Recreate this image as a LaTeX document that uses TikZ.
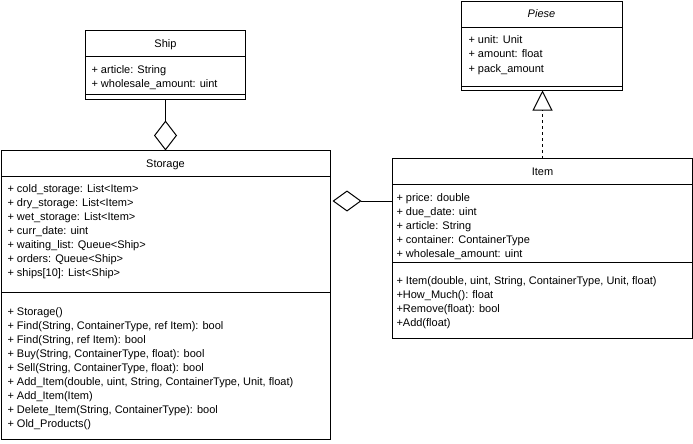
\documentclass[tikz,border=0pt]{standalone}
\usepackage{fontspec}
\setmainfont{Liberation Sans}
\usetikzlibrary{arrows.meta}

\begin{document}
\begin{tikzpicture}[x=1pt, y=-1pt, line width=1pt,
  font=\fontsize{11}{13}\selectfont,
  classbox/.style={draw=black, fill=white, anchor=north west, inner sep=0, outer sep=0},
  member/.style={anchor=base west, inner sep=0},
  title/.style={anchor=base, inner sep=0},
  aggregation/.style={-{Diamond[open, length=#1]}},
  realization/.style={dashed, dash pattern=on 3pt off 3pt, -{Triangle[open, length=20pt, width=20pt]}}
]
\useasboundingbox (0,0) rectangle (693,444);

% ---------- class boxes ----------
\node[classbox, minimum width=160pt, minimum height=69pt] (ship) at (85.5,30.5) {};
\node[classbox, minimum width=329pt, minimum height=289pt] (storage) at (1.5,150.5) {};
\node[classbox, minimum width=161pt, minimum height=89pt] (piese) at (461.5,1.5) {};
\node[classbox, minimum width=300pt, minimum height=180pt] (item) at (392.5,158.5) {};

% compartment separators
\draw (ship.west |- 0,56.5) -- (ship.east |- 0,56.5);
\draw (ship.west |- 0,94.5) -- (ship.east |- 0,94.5);
\draw (storage.west |- 0,176.5) -- (storage.east |- 0,176.5);
\draw (storage.west |- 0,292.5) -- (storage.east |- 0,292.5);
\draw (piese.west |- 0,27.5) -- (piese.east |- 0,27.5);
\draw (piese.west |- 0,86.5) -- (piese.east |- 0,86.5);
\draw (item.west |- 0,184.5) -- (item.east |- 0,184.5);
\draw (item.west |- 0,262.5) -- (item.east |- 0,262.5);

% ---------- Ship ----------
\node[title] (shipT) at (165.5,47.5) {Ship};
\node[member] (shipA0) at (91,73.5) {+ article: String};
\node[member] (shipA1) at (91,87.5) {+ wholesale\_amount: uint};

% ---------- Piese ----------
\node[title, font=\fontsize{11}{13}\selectfont\itshape] (pieseT) at (541.5,18) {Piese};
\foreach \t [count=\i from 0] in {{+ unit: Unit}, {+ amount: float}, {+ pack\_amount}}
  \node[member] (pieseA\i) at (468, 44+14*\i) {\t};

% ---------- Storage ----------
\node[title] (storageT) at (165.5,167) {Storage};
\foreach \t [count=\i from 0] in {
  {+ cold\_storage: List<Item>},
  {+ dry\_storage: List<Item>},
  {+ wet\_storage: List<Item>},
  {+ curr\_date: uint},
  {+ waiting\_list: Queue<Ship>},
  {+ orders: Queue<Ship>},
  {+ ships[10]: List<Ship>}}
  \node[member] (storageA\i) at (7, 192+14*\i) {\t};
\foreach \t [count=\i from 0] in {
  {+ Storage()},
  {+ Find(String, ContainerType, ref Item): bool},
  {+ Find(String, ref Item): bool},
  {+ Buy(String, ContainerType, float): bool},
  {+ Sell(String, ContainerType, float): bool},
  {+ Add\_Item(double, uint, String, ContainerType, Unit, float)},
  {+ Add\_Item(Item)},
  {+ Delete\_Item(String, ContainerType): bool},
  {+ Old\_Products()}}
  \node[member] (storageM\i) at (7, 315+14*\i) {\t};

% ---------- Item ----------
\node[title] (itemT) at (542.5,175) {Item};
\foreach \t [count=\i from 0] in {
  {+ price: double},
  {+ due\_date: uint},
  {+ article: String},
  {+ container: ContainerType},
  {+ wholesale\_amount: uint}}
  \node[member] (itemA\i) at (396, 201+14*\i) {\t};
\foreach \t [count=\i from 0] in {
  {+ Item(double, uint, String, ContainerType, Unit, float)},
  {+How\_Much(): float},
  {+Remove(float): bool},
  {+Add(float)}}
  \node[member] (itemM\i) at (396, 284+14*\i) {\t};

% ---------- relations ----------
\coordinate (aggItem) at (332.5,201);
\draw[-{Diamond[open, length=30pt, width=23pt]}] (ship.south) -- (storage.north -| ship.south);
\draw[-{Diamond[open, length=29pt, width=21pt]}] (item.west |- aggItem) -- (aggItem);
\draw[realization] (item.north) -- (piese.south -| item.north);
\end{tikzpicture}
\end{document}
